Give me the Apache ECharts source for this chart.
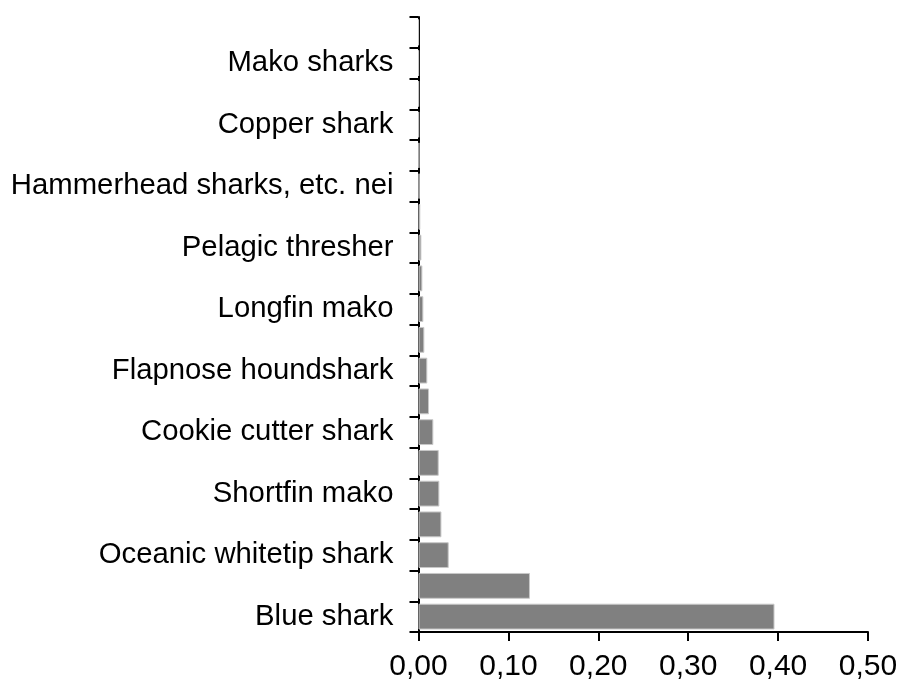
<!DOCTYPE html>
<html>
<head>
<meta charset="utf-8">
<script src="https://cdn.jsdelivr.net/npm/echarts@6/dist/echarts.min.js"></script>
<style>
html,body{margin:0;padding:0;background:#fff;}
#chart{width:900px;height:680px;}
</style>
</head>
<body>
<div id="chart"></div>
<script>
// Categories from bottom to top; unlabeled categories in the source are hidden via label interval
const categories = [
  'Blue shark', 'Unlabeled 2',
  'Oceanic whitetip shark', 'Unlabeled 4',
  'Shortfin mako', 'Unlabeled 6',
  'Cookie cutter shark', 'Unlabeled 8',
  'Flapnose houndshark', 'Unlabeled 10',
  'Longfin mako', 'Unlabeled 12',
  'Pelagic thresher', 'Unlabeled 14',
  'Hammerhead sharks, etc. nei', 'Unlabeled 16',
  'Copper shark', 'Unlabeled 18',
  'Mako sharks', 'Unlabeled 20'
];
const values = [
  0.396, 0.124,
  0.0336, 0.0255,
  0.0232, 0.0225,
  0.0165, 0.0117,
  0.0098, 0.0065,
  0.0054, 0.0043,
  0.0032, 0.0020,
  0.0012, 0.0009,
  0.0004, 0.0003,
  0.0002, 0.0001
];
const xTicks = { min: 0, max: 0.5, interval: 0.1 };

const chart = echarts.init(document.getElementById('chart'), null, { renderer: 'canvas' });
const fontFamily = '"Liberation Sans", Arial, sans-serif';
chart.setOption({
  animation: false,
  backgroundColor: '#ffffff',
  grid: { left: 418.5, right: 32, top: 17, bottom: 48, outerBoundsMode: 'none', containLabel: false },
  xAxis: {
    type: 'value',
    min: xTicks.min, max: xTicks.max, interval: xTicks.interval,
    axisLine: { show: true, lineStyle: { color: '#000', width: 2 } },
    axisTick: { show: true, length: 9, lineStyle: { color: '#000', width: 2 } },
    splitLine: { show: false },
    axisLabel: {
      color: '#000', fontSize: 30, fontFamily: fontFamily, margin: 20,
      formatter: v => v.toFixed(2).replace('.', ',')
    }
  },
  yAxis: {
    type: 'category',
    data: categories,
    axisLine: { show: true, lineStyle: { color: '#000', width: 2 } },
    axisTick: { show: true, length: 9, alignWithLabel: false, interval: 0, lineStyle: { color: '#000', width: 2 } },
    axisLabel: {
      interval: 1, color: '#000', fontSize: 29.3, fontFamily: fontFamily, margin: 25
    },
    splitLine: { show: false }
  },
  series: [{
    type: 'bar',
    data: values,
    barCategoryGap: '16%',
    itemStyle: { color: '#808080', borderColor: '#c8c8c8', borderWidth: 1 }
  }]
});
</script>
</body>
</html>
